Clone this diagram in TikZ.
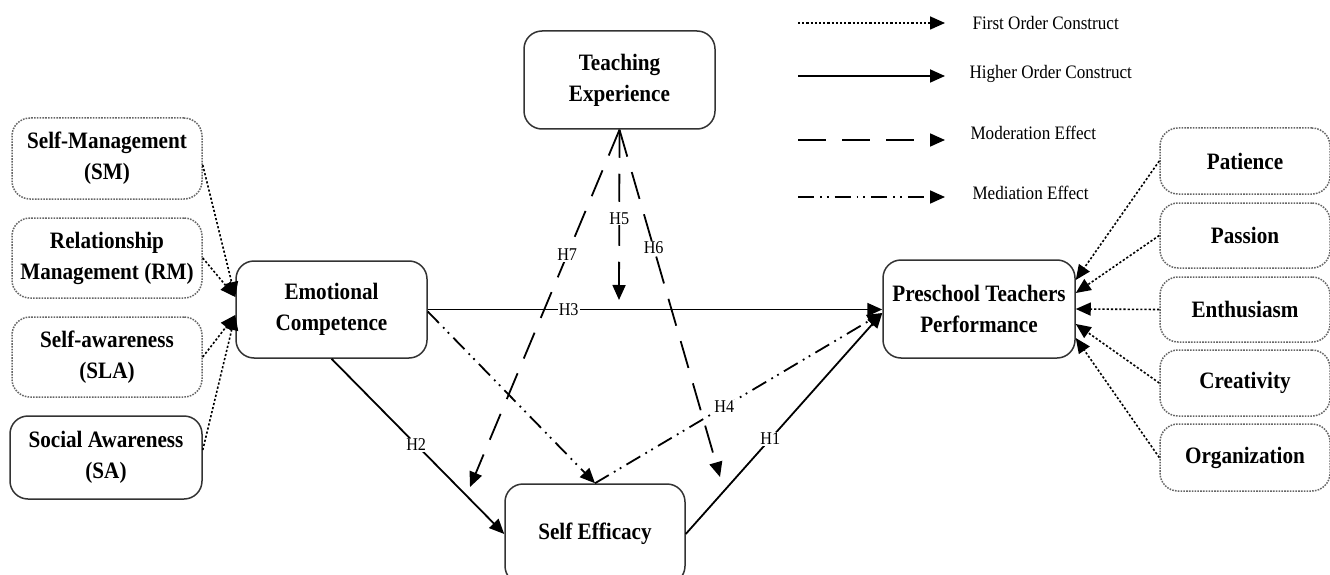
\documentclass[tikz,border=0pt]{standalone}
\usepackage{fontspec}
\setmainfont{Liberation Serif}[FakeStretch=0.9]
\usetikzlibrary{arrows.meta,calc}
\begin{document}
\begin{tikzpicture}[x=1pt,y=-1pt,
  box/.style={draw=black!80,line width=1.5pt,rounded corners=18pt,align=center,
    font=\fontsize{23.5}{31}\selectfont\bfseries,inner sep=1pt},
  fobox/.style={box,draw=black!60,dash pattern=on 1.6pt off 1.2pt},
  tip/.style={-{Triangle[length=15pt,width=13pt]}},
  firstord/.style={tip,line width=1.6pt,dash pattern=on 2.2pt off 2pt},
  higher/.style={tip,line width=1.8pt},
  moder/.style={tip,line width=1.8pt,dash pattern=on 28pt off 16pt},
  medi/.style={tip,line width=1.8pt,dash pattern=on 16pt off 6pt on 1.8pt off 5pt on 1.8pt off 6pt},
  hlab/.style={fill=white,inner sep=1pt,font=\fontsize{18}{20}\selectfont},
  legtext/.style={anchor=west,font=\fontsize{19}{21}\selectfont}
]
\useasboundingbox (0,0) rectangle (1330,575);

% left first-order constructs
\node[fobox,minimum width=190pt,minimum height=81pt] (SM) at (107,158.5) {Self-Management\\(SM)};
\node[fobox,minimum width=190pt,minimum height=80pt] (RM) at (107,258) {Relationship\\Management (RM)};
\node[fobox,minimum width=190pt,minimum height=80pt] (SLA) at (107,357) {Self-awareness\\(SLA)};
\node[box,minimum width=192pt,minimum height=83pt] (SA) at (106,457.5) {Social Awareness\\(SA)};

% main constructs
\node[box,minimum width=191pt,minimum height=97pt] (EC) at (331.5,309.5) {Emotional\\Competence};
\node[box,minimum width=191pt,minimum height=98pt] (TE) at (619.5,80) {Teaching\\Experience};
\node[box,minimum width=180pt,minimum height=100pt] (SE) at (595,534) {Self Efficacy};
\node[box,minimum width=192pt,minimum height=98pt] (PTP) at (979,309) {Preschool Teachers\\Performance};

% right first-order constructs
\node[fobox,minimum width=170pt,minimum height=66pt] (PAT) at (1245,161) {Patience};
\node[fobox,minimum width=170pt,minimum height=65pt] (PAS) at (1245,235.5) {Passion};
\node[fobox,minimum width=170pt,minimum height=65pt] (ENT) at (1245,309.5) {Enthusiasm};
\node[fobox,minimum width=170pt,minimum height=66pt] (CRE) at (1245,383) {Creativity};
\node[fobox,minimum width=170pt,minimum height=67pt] (ORG) at (1245,457.5) {Organization};

% first order arrows (left)
\draw[firstord] ([yshift=-6.5pt]SM.east) -- ([yshift=12.5pt]EC.west);
\draw[firstord] (RM.east) -- ([yshift=12.5pt]EC.west);
\draw[firstord] (SLA.east) -- ([yshift=-5.5pt]EC.west);
\draw[firstord] ([yshift=7.5pt]SA.east) -- ([yshift=-5.5pt]EC.west);

% first order arrows (right)
\draw[firstord] (PAT.west) -- ([yshift=29pt]PTP.east);
\draw[firstord] (PAS.west) -- ([yshift=16pt]PTP.east);
\draw[firstord] (ENT.west) -- ([yshift=0pt]PTP.east);
\draw[firstord] (CRE.west) -- ([yshift=-15pt]PTP.east);
\draw[firstord] (ORG.west) -- ([yshift=-29pt]PTP.east);

% structural paths
\draw[higher] (EC.east) -- node[hlab,pos=0.31] {H3} (EC.east -| PTP.west);
\draw[higher] (EC.south) -- node[hlab,pos=0.49] {H2} (SE.west);
\draw[higher] (SE.east) -- node[hlab,pos=0.43] {H1} ([yshift=-4pt]PTP.west);

% mediation
\draw[medi] ([yshift=-2pt]EC.east) -- (SE.north);
\draw[medi] (SE.north) -- node[hlab,pos=0.45] {H4} ([yshift=-4pt]PTP.west);

% moderation
\coordinate (h5end) at (619,300);
\coordinate (h7end) at (470,487);
\coordinate (h6end) at (720,477);
\draw[moder] (TE.south) -- node[hlab,pos=0.52] {H5} (h5end);
\draw[moder] (TE.south) -- node[hlab,pos=0.35] {H7} (h7end);
\draw[moder] (TE.south) -- node[hlab,pos=0.34] {H6} (h6end);

% legend
\coordinate (l1a) at (798,23);  \coordinate (l1b) at (945,23);
\coordinate (l2a) at (798,76);  \coordinate (l2b) at (945,76);
\coordinate (l3a) at (798,140); \coordinate (l3b) at (945,140);
\coordinate (l4a) at (798,197); \coordinate (l4b) at (945,197);
\draw[firstord] (l1a) -- (l1b);
\draw[higher] (l2a) -- (l2b);
\draw[moder] (l3a) -- (l3b);
\draw[medi] (l4a) -- (l4b);
\node[legtext] (t1) at (969,23) {First Order Construct};
\node[legtext] (t2) at (966,74) {Higher Order Construct};
\node[legtext] (t3) at (967,133) {Moderation Effect};
\node[legtext] (t4) at (969,193) {Mediation Effect};
\end{tikzpicture}
\end{document}
